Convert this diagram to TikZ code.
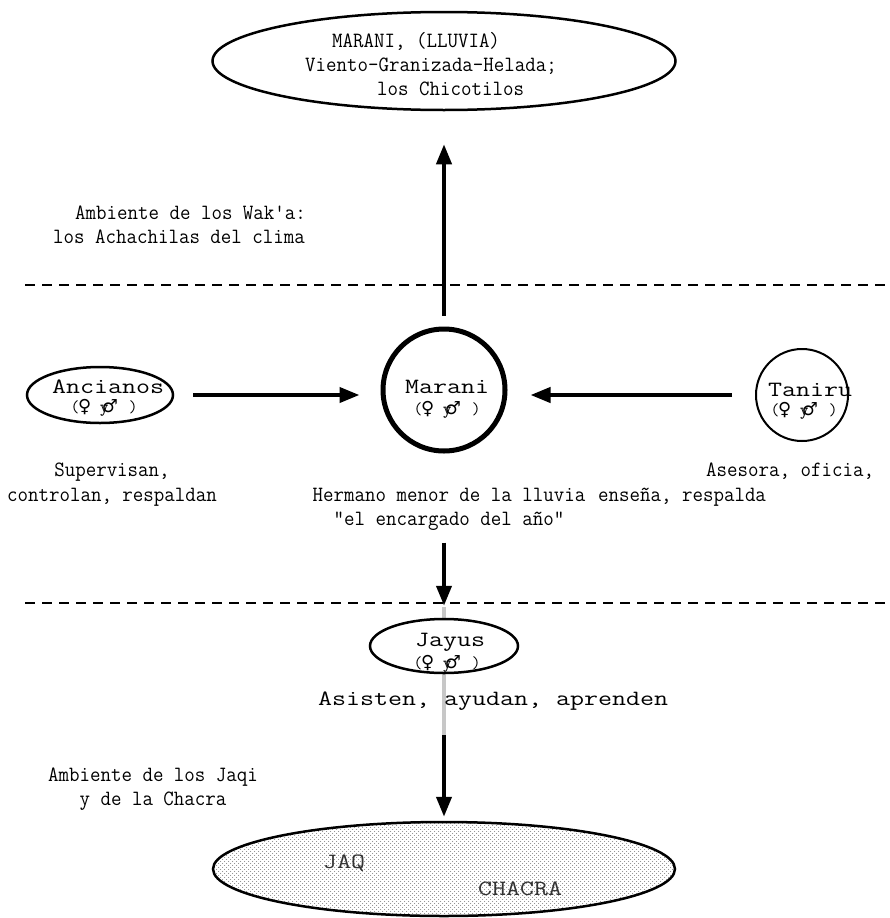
\documentclass[tikz,border=0pt]{standalone}
\usepackage{fontspec}
\usepackage{graphicx}
\usetikzlibrary{shapes.geometric,arrows.meta,patterns}
\newfontfamily\symf{DejaVu Sans}
\pgfdeclarepatternformonly{stipple}{\pgfqpoint{-1pt}{-1pt}}{\pgfqpoint{4pt}{4pt}}{\pgfqpoint{4pt}{4pt}}{%
  \pgfpathcircle{\pgfqpoint{0.5pt}{0.5pt}}{0.5pt}%
  \pgfpathcircle{\pgfqpoint{2.5pt}{2.5pt}}{0.5pt}%
  \pgfusepath{fill}}
\newcommand{\cz}[1]{\scalebox{0.934}[1]{#1}}
\newcommand{\nat}[1]{\scalebox{1.247}[1]{#1}}
\newcommand{\cell}[1]{\makebox[9.7pt]{#1}}
\newcommand{\sexes}{\cell{\ttfamily\fontsize{17}{17}\selectfont(}\cell{\symf\fontsize{18}{18}\selectfont\char"2640}\cell{}\cell{\ttfamily\fontsize{17}{17}\selectfont y}\kern-4pt\cell{\symf\fontsize{18}{18}\selectfont\char"2642}\kern4pt\cell{}\cell{\ttfamily\fontsize{17}{17}\selectfont)}}
\begin{document}
\begin{tikzpicture}[x=1pt,y=-1pt,
  txt/.style={font=\ttfamily\fontsize{21.8}{24}\selectfont, inner sep=0pt, anchor=base west},
  ctxt/.style={txt, anchor=base},
  symtxt/.style={inner sep=0pt, anchor=base west},
  oval/.style={ellipse, draw, line width=2.5pt, inner sep=0pt},
  arr/.style={line width=4pt, -{Triangle[length=20pt,width=15pt]}},
  sep/.style={line width=2.5pt, dash pattern=on 10pt off 7pt}]
\useasboundingbox (0,0) rectangle (890,918);
\clip (0,0) rectangle (890,918);
\fill[white] (0,0) rectangle (890,918);

% separators
\coordinate (s1a) at (25,285); \coordinate (s1b) at (900,285);
\coordinate (s2a) at (25,603); \coordinate (s2b) at (900,603);
\draw[sep] (s1a) -- (s1b);
\draw[sep] (s2a) -- (s2b);

% gray line through Jayus
\coordinate (g1) at (444,607);
\coordinate (g2) at (444,735);
\draw[line width=4pt, black!22] (g1) -- (g2);

% nodes
\node[oval, minimum width=463pt, minimum height=98pt] (top) at (444,61) {};
\node[txt] (t1) at (332,47) {\cz{MARANI, (LLUVIA)}};
\node[txt] (t2) at (305,71) {\cz{Viento-Granizada-Helada;}};
\node[txt] (t3) at (377,95) {\cz{los Chicotilos}};

\node[txt] (w1) at (75,219) {\cz{Ambiente de los Wak'a:}};
\node[txt] (w2) at (53,243) {\cz{los Achachilas del clima}};

\node[oval, minimum width=146pt, minimum height=56pt] (anc) at (100,395) {};
\node[txt] (ancl) at (52,393) {\nat{Ancianos}};
\node[symtxt] (ancs) at (70,412) {\sexes};

\node[circle, draw, line width=5pt, minimum size=122pt, inner sep=0pt] (mar) at (444,390) {};
\node[txt] (marl) at (405,393) {\nat{Marani}};
\node[symtxt] (mars) at (413,414) {\sexes};

\node[circle, draw, line width=2pt, minimum size=92pt, inner sep=0pt] (tan) at (802,395) {};
\node[txt] (tanl) at (768,396) {\nat{Taniru}};
\node[symtxt] (tans) at (770,415) {\sexes};

\node[ctxt] (sup1) at (112,476) {\cz{Supervisan,}};
\node[ctxt] (sup2) at (112,501) {\cz{controlan, respaldan}};
\node[ctxt] (her1) at (449,501) {\cz{Hermano menor de la lluvia}};
\node[ctxt] (her2) at (449,525) {\cz{"el encargado del año"}};
\node[txt] (ase1) at (706,476) {\cz{Asesora, oficia,}};
\node[txt] (ase2) at (598,501) {\cz{enseña, respalda}};

\node[oval, fill=white, minimum width=148pt, minimum height=54pt] (jay) at (444,646) {};
\node[txt] (jayl) at (415,646) {\nat{Jayus}};
\node[symtxt] (jays) at (413,668) {\sexes};
\node[txt] (asi) at (318,705) {\nat{Asisten, ayudan, aprenden}};

\node[ctxt] (jaq1) at (153,781) {\cz{Ambiente de los Jaqi}};
\node[ctxt] (jaq2) at (153,805) {\cz{y de la Chacra}};

\node[oval, pattern=stipple, pattern color=black!50, minimum width=462pt, minimum height=94pt] (bot) at (444,869) {};
\node[txt, text=black!80] (jaq) at (323,868) {\nat{JAQ}};
\node[txt, text=black!80] (cha) at (478,895) {\nat{CHACRA}};

% connectors
\draw[arr, shorten <=11pt, shorten >=33pt] (mar) -- (top);
\draw[arr, shorten <=19pt, shorten >=21pt] (anc.east) -- (anc.east -| mar.west);
\draw[arr, shorten <=23pt, shorten >=23pt] (tan.west) -- (tan.west -| mar.east);
\draw[arr, shorten <=89pt, shorten >=12pt] (mar) -- (jay);
\draw[arr, shorten >=4pt] (g2) -- (bot);
\end{tikzpicture}
\end{document}
